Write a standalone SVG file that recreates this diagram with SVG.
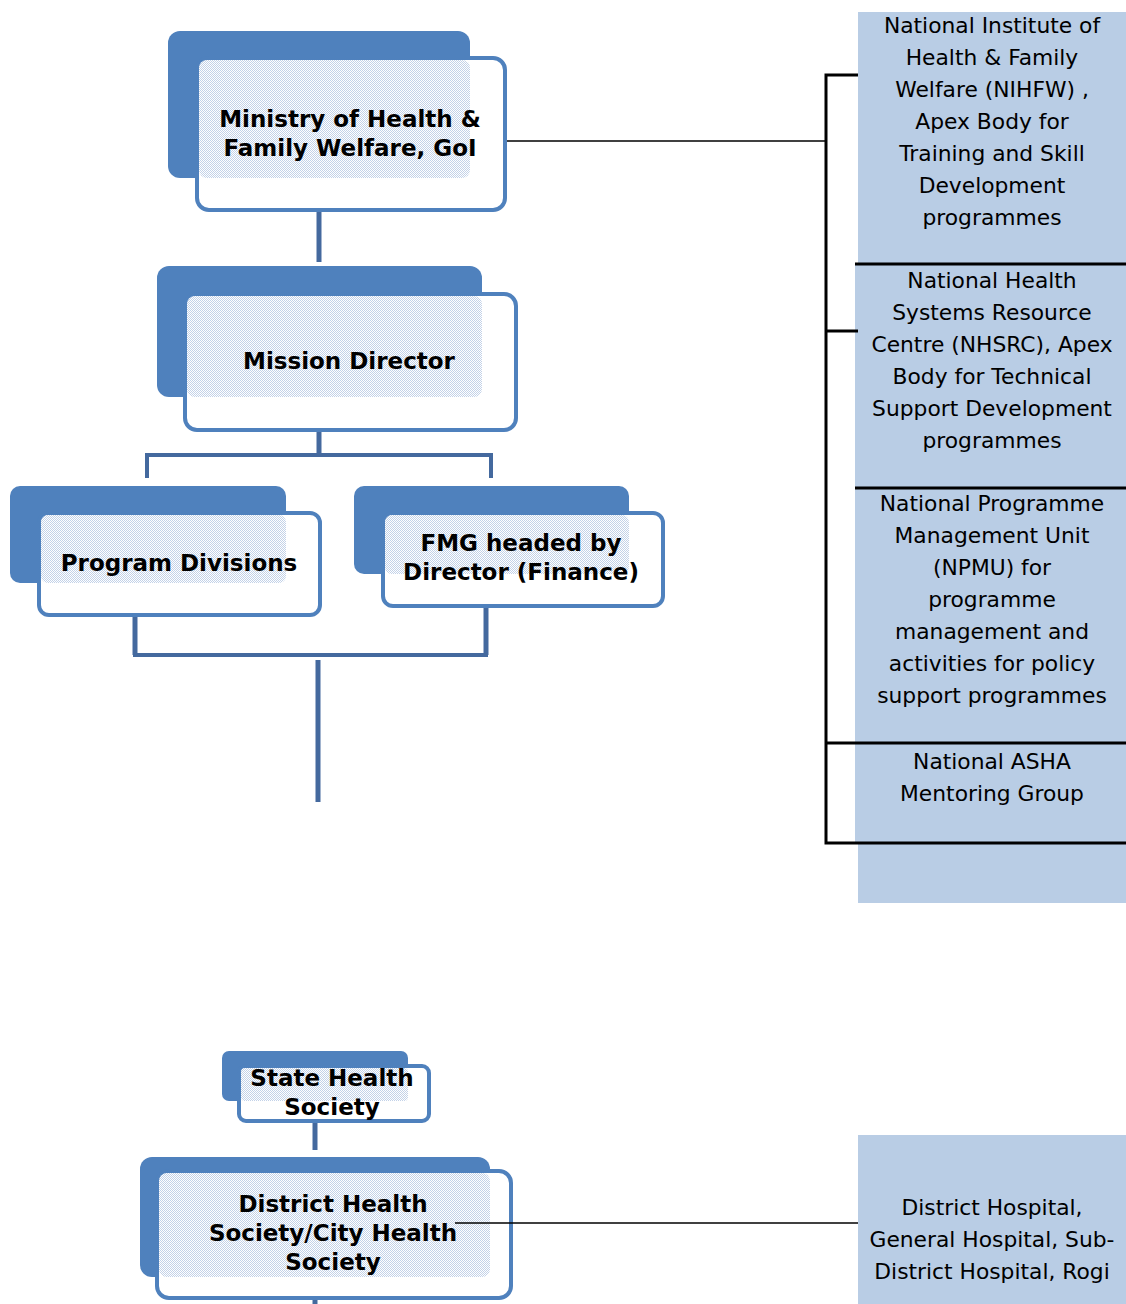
<svg xmlns="http://www.w3.org/2000/svg" width="1126" height="1304" viewBox="0 0 1126 1304">
<defs>
<pattern id="dots" width="2" height="2" patternUnits="userSpaceOnUse">
<rect width="2" height="2" fill="#ffffff"/>
<rect x="0" y="0" width="1" height="1" fill="#C3D2E8"/>
<rect x="1" y="1" width="1" height="1" fill="#C3D2E8"/>
</pattern>
</defs>
<style>
.back{fill:#4F81BD}
.front{fill:#ffffff;stroke:#4F81BD;stroke-width:4}
.dot{fill:url(#dots)}
.bt{font-family:"DejaVu Sans",Verdana,sans-serif;font-weight:bold;font-size:23px;fill:#000;text-anchor:middle}
.rt{font-family:"DejaVu Sans",Verdana,sans-serif;font-size:21.8px;fill:#000;text-anchor:middle}
.lb{fill:#B9CDE5}
.conn{stroke:#44699E;stroke-width:5;fill:none}
.connh{stroke:#44699E;stroke-width:4;fill:none}
.blk{stroke:#000;stroke-width:3;fill:none}
.thin{stroke:#000;stroke-width:1.5;fill:none}
</style>
<rect width="1126" height="1304" fill="#ffffff"/>

<g id="connectors">
<line class="conn" x1="319" y1="212" x2="319" y2="262"/>
<line class="conn" x1="319" y1="432" x2="319" y2="455"/>
<polyline class="connh" points="147,478 147,455 491,455 491,478"/>
<line class="conn" x1="135" y1="617" x2="135" y2="655"/>
<line class="conn" x1="486" y1="608" x2="486" y2="655"/>
<line class="connh" x1="133" y1="655" x2="488" y2="655"/>
<line class="conn" x1="318" y1="660" x2="318" y2="802"/>
<line class="conn" x1="315" y1="1123" x2="315" y2="1150"/>
<line class="conn" x1="315" y1="1299" x2="315" y2="1304"/>
</g>

<g id="right-column">
<rect class="lb" x="858" y="12" width="268" height="252"/>
<rect class="lb" x="855" y="265" width="271" height="223"/>
<rect class="lb" x="855" y="489" width="271" height="254"/>
<rect class="lb" x="855" y="744" width="271" height="99"/>
<rect class="lb" x="858" y="843" width="268" height="60"/>
<text class="rt" x="992" y="33">National Institute of</text>
<text class="rt" x="992" y="65">Health &amp; Family</text>
<text class="rt" x="992" y="97">Welfare (NIHFW) ,</text>
<text class="rt" x="992" y="129">Apex Body for</text>
<text class="rt" x="992" y="161">Training and Skill</text>
<text class="rt" x="992" y="193">Development</text>
<text class="rt" x="992" y="225">programmes</text>
<text class="rt" x="992" y="288">National Health</text>
<text class="rt" x="992" y="320">Systems Resource</text>
<text class="rt" x="992" y="352">Centre (NHSRC), Apex</text>
<text class="rt" x="992" y="384">Body for Technical</text>
<text class="rt" x="992" y="416">Support Development</text>
<text class="rt" x="992" y="448">programmes</text>
<text class="rt" x="992" y="511">National Programme</text>
<text class="rt" x="992" y="543">Management Unit</text>
<text class="rt" x="992" y="575">(NPMU) for</text>
<text class="rt" x="992" y="607">programme</text>
<text class="rt" x="992" y="639">management and</text>
<text class="rt" x="992" y="671">activities for policy</text>
<text class="rt" x="992" y="703">support programmes</text>
<text class="rt" x="992" y="769">National ASHA</text>
<text class="rt" x="992" y="801">Mentoring Group</text>
</g>

<g id="bracket">
<line class="thin" x1="500" y1="141" x2="826" y2="141"/>
<polyline class="blk" points="858,75 826,75 826,843 1126,843"/>
<line class="blk" x1="826" y1="331" x2="858" y2="331"/>
<line class="blk" x1="855" y1="264" x2="1126" y2="264"/>
<line class="blk" x1="855" y1="488" x2="1126" y2="488"/>
<line class="blk" x1="826" y1="743" x2="1126" y2="743"/>
</g>

<g id="node-ministry">
<rect class="back" x="168" y="31" width="302" height="147" rx="12"/>
<rect class="front" x="197" y="58" width="308" height="152" rx="12"/>
<rect class="dot" x="199" y="60" width="271" height="118" rx="8"/>
<text class="bt" x="350" y="127">Ministry of Health &amp;</text>
<text class="bt" x="350" y="156">Family Welfare, GoI</text>
</g>

<g id="node-mission">
<rect class="back" x="157" y="266" width="325" height="131" rx="12"/>
<rect class="front" x="185" y="294" width="331" height="136" rx="12"/>
<rect class="dot" x="187" y="296" width="295" height="101" rx="8"/>
<text class="bt" x="349" y="369">Mission Director</text>
</g>

<g id="node-program">
<rect class="back" x="10" y="486" width="276" height="97" rx="10"/>
<rect class="front" x="39" y="513" width="281" height="102" rx="10"/>
<rect class="dot" x="41" y="515" width="245" height="68" rx="7"/>
<text class="bt" x="179" y="571">Program Divisions</text>
</g>

<g id="node-fmg">
<rect class="back" x="354" y="486" width="275" height="88" rx="10"/>
<rect class="front" x="383" y="513" width="280" height="93" rx="10"/>
<rect class="dot" x="385" y="515" width="244" height="59" rx="7"/>
<text class="bt" x="521" y="551">FMG headed by</text>
<text class="bt" x="521" y="580">Director (Finance)</text>
</g>

<g id="node-state">
<rect class="back" x="222" y="1051" width="186" height="50" rx="7"/>
<rect class="front" x="239" y="1066" width="190" height="55" rx="7"/>
<rect class="dot" x="241" y="1068" width="167" height="33" rx="4"/>
<text class="bt" x="332" y="1086">State Health</text>
<text class="bt" x="332" y="1115">Society</text>
</g>

<g id="node-district">
<rect class="back" x="140" y="1157" width="350" height="120" rx="12"/>
<rect class="front" x="157" y="1171" width="354" height="127" rx="12"/>
<rect class="dot" x="159" y="1173" width="331" height="104" rx="8"/>
<text class="bt" x="333" y="1212">District Health</text>
<text class="bt" x="333" y="1241">Society/City Health</text>
<text class="bt" x="333" y="1270">Society</text>
</g>

<g id="node-hospitals">
<line class="thin" x1="455" y1="1223" x2="858" y2="1223"/>
<rect class="lb" x="858" y="1135" width="268" height="169"/>
<text class="rt" x="992" y="1215">District Hospital,</text>
<text class="rt" x="992" y="1247">General Hospital, Sub-</text>
<text class="rt" x="992" y="1279">District Hospital, Rogi</text>
</g>
</svg>
